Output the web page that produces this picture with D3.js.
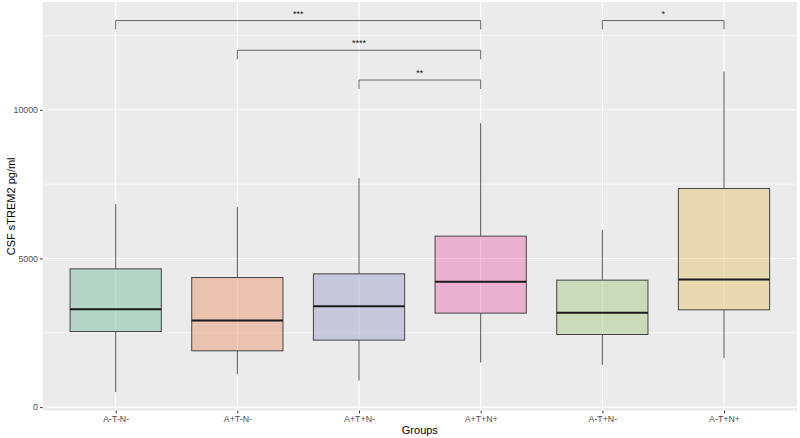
<!DOCTYPE html>
<html><head><meta charset="utf-8">
<script src="https://cdn.jsdelivr.net/npm/d3@7"></script>
<style>body{margin:0;background:#fff}svg{display:block}</style>
</head><body>
<svg id="c" width="800" height="438"></svg>
<script>
const categories = ["A-T-N-","A+T-N-","A+T+N-","A+T+N+","A-T+N-","A-T+N+"];
const whiskerLow  = [504, 1110, 895, 1500, 1422, 1648];
const q1          = [2542, 1893, 2253, 3161, 2442, 3272];
const median      = [3295, 2912, 3396, 4213, 3171, 4291];
const q3          = [4650, 4358, 4482, 5750, 4270, 7351];
const whiskerHigh = [6826, 6725, 7700, 9550, 5962, 11285];
const colors = ["#66B496","#E68755","#9494C6","#E95DA8","#9BC16C","#E6BE58"];
const yTicks = [0, 5000, 10000];
const yMinor = [2500, 7500, 12500];
const bracketFrom = ["A-T-N-","A+T-N-","A+T+N-","A-T+N-"];
const bracketTo   = ["A+T+N+","A+T+N+","A+T+N+","A-T+N+"];
const bracketY    = [13000, 12000, 11000, 13000];
const bracketLabel= ["***","****","**","*"];
const tipLen = 300;

const svg = d3.select("#c");
const L = 42.7, R = 797, T = 2, B = 410.7;
const dataMin = 504, dataMax = 13000;
const pad = (dataMax - dataMin) * 0.05;
const y = d3.scaleLinear().domain([dataMin - pad, dataMax + pad]).range([B, T]);
const x = d3.scalePoint().domain(categories).range([L, R]).padding(0.6);
const step = x.step();
const bw = step * 0.75;
const FONT = "Liberation Sans, Arial, sans-serif";

svg.append("rect").attr("x", L).attr("y", T).attr("width", R - L).attr("height", B - T).attr("fill", "#EBEBEB");
const g = svg.append("g");
yMinor.forEach(v => g.append("line").attr("x1", L).attr("x2", R).attr("y1", y(v)).attr("y2", y(v)).attr("stroke", "#fff").attr("stroke-width", 0.6));
yTicks.forEach(v => g.append("line").attr("x1", L).attr("x2", R).attr("y1", y(v)).attr("y2", y(v)).attr("stroke", "#fff").attr("stroke-width", 1.1));
categories.forEach(c => g.append("line").attr("x1", x(c)).attr("x2", x(c)).attr("y1", T).attr("y2", B).attr("stroke", "#fff").attr("stroke-width", 1.1));

const data = categories.map((c, i) => ({c, lo: whiskerLow[i], q1: q1[i], med: median[i], q3: q3[i], hi: whiskerHigh[i], col: colors[i]}));
const bx = svg.append("g").selectAll("g").data(data).join("g");
bx.append("line").attr("x1", d => x(d.c)).attr("x2", d => x(d.c)).attr("y1", d => y(d.q3)).attr("y2", d => y(d.hi)).attr("stroke", "#555").attr("stroke-width", 1);
bx.append("line").attr("x1", d => x(d.c)).attr("x2", d => x(d.c)).attr("y1", d => y(d.q1)).attr("y2", d => y(d.lo)).attr("stroke", "#555").attr("stroke-width", 1);
bx.append("rect").attr("x", d => x(d.c) - bw / 2).attr("width", bw).attr("y", d => y(d.q3)).attr("height", d => y(d.q1) - y(d.q3))
  .attr("fill", d => d.col).attr("fill-opacity", 0.4).attr("stroke", "#444").attr("stroke-width", 1);
bx.append("line").attr("x1", d => x(d.c) - bw / 2).attr("x2", d => x(d.c) + bw / 2).attr("y1", d => y(d.med)).attr("y2", d => y(d.med)).attr("stroke", "#1a1a1a").attr("stroke-width", 2);

// brackets
const br = svg.append("g");
bracketY.forEach((v, i) => {
  const x1 = x(bracketFrom[i]), x2 = x(bracketTo[i]);
  br.append("path").attr("d", `M${x1},${y(v - tipLen)}V${y(v)}H${x2}V${y(v - tipLen)}`).attr("fill", "none").attr("stroke", "#666").attr("stroke-width", 1);
  br.append("text").attr("x", (x1 + x2) / 2).attr("y", y(v) - 4).attr("text-anchor", "middle")
    .attr("font-family", FONT).attr("font-size", 9).attr("fill", "#1a1a1a").text(bracketLabel[i]);
});

// axes
const ya = svg.append("g").attr("transform", `translate(${L},0)`).call(d3.axisLeft(y).tickValues(yTicks).tickFormat(d3.format("d")).tickSize(2.7).tickPadding(2));
const xa = svg.append("g").attr("transform", `translate(0,${B})`).call(d3.axisBottom(x).tickSize(2.7).tickPadding(2));
[ya, xa].forEach(a => {
  a.select(".domain").remove();
  a.selectAll(".tick line").attr("stroke", "#333");
  a.selectAll(".tick text").attr("fill", "#4D4D4D").attr("font-size", 8.8).attr("font-family", FONT);
});
svg.append("text").attr("x", (L + R) / 2).attr("y", 434).attr("text-anchor", "middle")
  .attr("font-family", FONT).attr("font-size", 11).attr("fill", "#000").text("Groups");
svg.append("text").attr("transform", `translate(15,${(T + B) / 2}) rotate(-90)`).attr("text-anchor", "middle")
  .attr("font-family", FONT).attr("font-size", 11).attr("fill", "#000").text("CSF sTREM2 pg/ml");
</script>
</body></html>
